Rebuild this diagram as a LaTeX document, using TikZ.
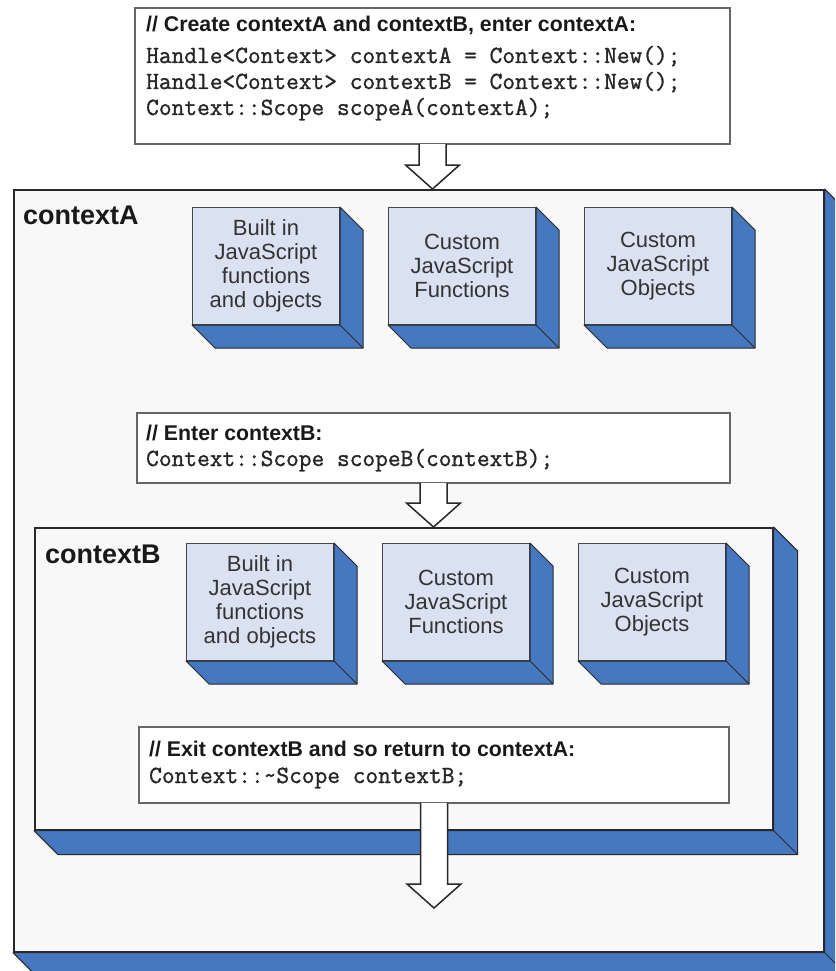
\documentclass[tikz,border=0pt]{standalone}
\usepackage{fontspec}
\setmainfont{Liberation Sans}
\newfontfamily\codefont[FakeBold=1.2]{Latin Modern Mono}
\usetikzlibrary{calc}

\definecolor{shade}{RGB}{70,120,192}
\definecolor{facefill}{RGB}{218,225,241}
\definecolor{panelfill}{RGB}{248,248,248}
\definecolor{edge}{RGB}{40,40,40}

\tikzset{
  panel/.style={draw=edge, line width=1.6, fill=panelfill, anchor=north west, inner sep=0},
  blockface/.style={draw=edge!85, line width=1, fill=facefill, anchor=north west,
    minimum width=147, minimum height=117, inner sep=0, align=center, text=black!80,
    font=\fontsize{22}{24}\selectfont},
  codebox/.style={draw=black!60, line width=2, fill=white, anchor=north west, inner sep=0},
  comment/.style={anchor=base west, inner sep=0, text=black!90,
    font=\fontsize{21.3}{24}\selectfont\bfseries},
  codeline/.style={anchor=base west, inner sep=0, text=black!85,
    font=\codefont\bfseries\fontsize{24.7}{27}\selectfont},
  paneltitle/.style={anchor=base west, inner sep=0, text=black!90,
    font=\fontsize{27}{29}\selectfont\bfseries},
  shadefill/.style={fill=shade, draw=edge, line width=1, line join=round},
  bigarrow/.style={fill=white, draw=edge, line width=1.5, line join=miter},
}

% extruded depth of a box: #1 node name, #2 depth
\newcommand\extrude[2]{%
  \draw[shadefill] (#1.north east) -- ++(#2,#2) -- ($(#1.south east)+(#2,#2)$)
    -- ($(#1.south west)+(#2,#2)$) -- (#1.south west) -- (#1.south east) -- cycle;
  \draw[edge, line width=1] (#1.south east) -- ++(#2,#2);
}

% hollow block arrow: #1 start point, #2 tip point
\newcommand\blockarrow[2]{%
  \draw[bigarrow] let \p1=#1, \p2=#2 in
    (\x1-13.5pt,\y1+1pt) -- (\x1-13.5pt,\y2+24pt) -- (\x1-27pt,\y2+24pt) -- (\x1,\y2)
    -- (\x1+27pt,\y2+24pt) -- (\x1+13.5pt,\y2+24pt) -- (\x1+13.5pt,\y1+1pt);
}

\begin{document}
\begin{tikzpicture}[x=1pt,y=-1pt]
\path[use as bounding box, clip] (0,0) rectangle (835,971);
\fill[white] (0,0) rectangle (835,971);

% outer context
\node[panel, minimum width=810, minimum height=762] (ctxA) at (13,189) {};
\extrude{ctxA}{24}
\node[paneltitle] (ctxAtitle) at (23,224) {contextA};

\node[blockface] (a1) at (192,207) {Built in\\JavaScript\\functions\\and objects};
\extrude{a1}{23}
\node[blockface] (a2) at (388,207) {Custom\\JavaScript\\Functions};
\extrude{a2}{23}
\node[blockface] (a3) at (584,207) {Custom\\JavaScript\\Objects};
\extrude{a3}{23}

% entering the inner context
\node[codebox, minimum width=593, minimum height=70] (enter) at (136,412) {};
\node[comment] (enterC) at (146,440) {// Enter contextB:};
\node[codeline] (enterL) at (146,466) {Context::Scope scopeB(contextB);};

% inner context
\node[panel, minimum width=738, minimum height=302] (ctxB) at (34,527) {};
\extrude{ctxB}{24}
\node[paneltitle] (ctxBtitle) at (45,563) {contextB};

\node[blockface] (b1) at (186,543) {Built in\\JavaScript\\functions\\and objects};
\extrude{b1}{23}
\node[blockface] (b2) at (382,543) {Custom\\JavaScript\\Functions};
\extrude{b2}{23}
\node[blockface] (b3) at (578,543) {Custom\\JavaScript\\Objects};
\extrude{b3}{23}

\blockarrow{(enter.south)}{(enter.south |- ctxB.north)}

% leaving the inner context
\node[codebox, minimum width=590, minimum height=76] (exit) at (138,726) {};
\node[comment] (exitC) at (149,756) {// Exit contextB and so return to contextA:};
\node[codeline] (exitL) at (149,783) {Context::\textasciitilde Scope contextB;};
\coordinate (back) at ($(exit.south)+(0,104)$);
\blockarrow{(exit.south)}{(back)}

% creating both contexts
\node[codebox, minimum width=595, minimum height=136] (create) at (134,7) {};
\node[comment] (createC) at (146,32) {// Create contextA and contextB, enter contextA:};
\node[codeline] (createL1) at (146,63) {Handle<Context> contextA = Context::New();};
\node[codeline] (createL2) at (146,89) {Handle<Context> contextB = Context::New();};
\node[codeline] (createL3) at (146,115) {Context::Scope scopeA(contextA);};
\blockarrow{(create.south)}{(create.south |- ctxA.north)}
\end{tikzpicture}
\end{document}
